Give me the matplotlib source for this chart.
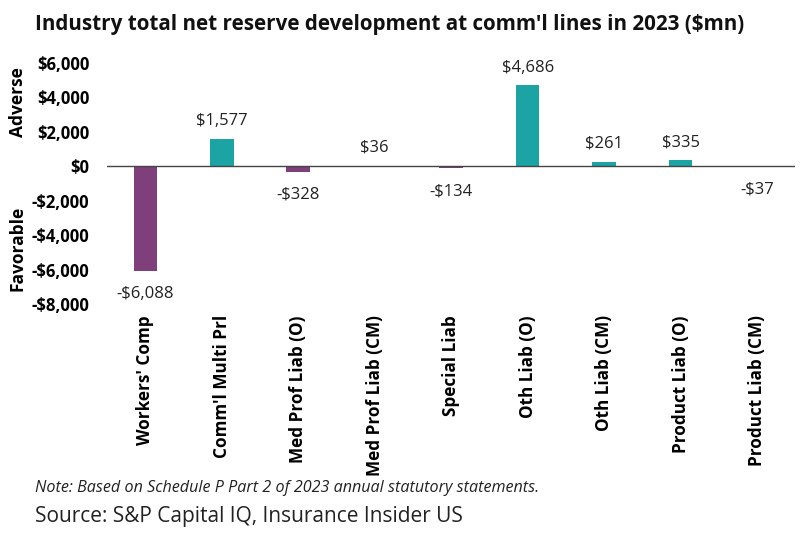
import matplotlib
matplotlib.use("Agg")
import matplotlib.pyplot as plt
from matplotlib.ticker import FuncFormatter

categories = ["Workers' Comp", "Comm'l Multi Prl", "Med Prof Liab (O)", "Med Prof Liab (CM)",
              "Special Liab", "Oth Liab (O)", "Oth Liab (CM)", "Product Liab (O)", "Product Liab (CM)"]
values = [-6088, 1577, -328, 36, -134, 4686, 261, 335, -37]
yticks = [6000, 4000, 2000, 0, -2000, -4000, -6000, -8000]

plt.rcParams['font.family'] = ['Open Sans', 'DejaVu Sans']
purple = "#7E3F7B"
teal = "#1CA3A4"

fig = plt.figure(figsize=(8, 5.41), dpi=100)
ax = fig.add_axes([0.134, 0.438, 0.860, 0.446])

x = list(range(len(categories)))
colors = [teal if v >= 0 else purple for v in values]
ax.bar(x, values, width=0.31, color=colors, zorder=2)
ax.axhline(0, color="#444444", lw=1.0, zorder=3)

def fmt(v):
    return ("-$" if v < 0 else "$") + f"{abs(v):,}"

for xi, v in zip(x, values):
    if v >= 0:
        ax.annotate(fmt(v), (xi, v), xytext=(0, 7), textcoords="offset points",
                    ha="center", va="bottom", fontsize=12, color="#222222")
    else:
        ax.annotate(fmt(v), (xi, v), xytext=(0, -10.5), textcoords="offset points",
                    ha="center", va="top", fontsize=12, color="#222222")

ax.set_xlim(-0.5, len(categories) - 0.5)
ax.set_ylim(-8000, 6000)
ax.set_yticks(yticks)
ax.yaxis.set_major_formatter(FuncFormatter(lambda v, p: fmt(int(v))))
for lab in ax.get_yticklabels():
    lab.set_fontweight("bold")
ax.tick_params(axis="y", length=0, labelsize=12, pad=13)
ax.tick_params(axis="x", length=0, pad=8)
ax.set_xticks(x)
ax.set_xticklabels(categories, rotation=90, fontsize=12.3, fontweight="bold", va="top", ha="center")
for s in ax.spines.values():
    s.set_visible(False)

fig.text(0.044, 0.954, "Industry total net reserve development at comm'l lines in 2023 ($mn)",
         fontsize=14.9, fontweight="bold", ha="left", va="center", color="#111111")
fig.text(0.022, 0.811, "Adverse", rotation=90, fontsize=12.5, fontweight="bold", ha="center", va="center")
fig.text(0.022, 0.540, "Favorable", rotation=90, fontsize=12.5, fontweight="bold", ha="center", va="center")
fig.text(0.044, 0.098, "Note: Based on Schedule P Part 2 of 2023 annual statutory statements.",
         fontsize=11.6, style="italic", ha="left", va="center", color="#222222")
fig.text(0.044, 0.045, "Source: S&P Capital IQ, Insurance Insider US",
         fontsize=15, ha="left", va="center", color="#222222")

fig.savefig("out.png", dpi=100)
